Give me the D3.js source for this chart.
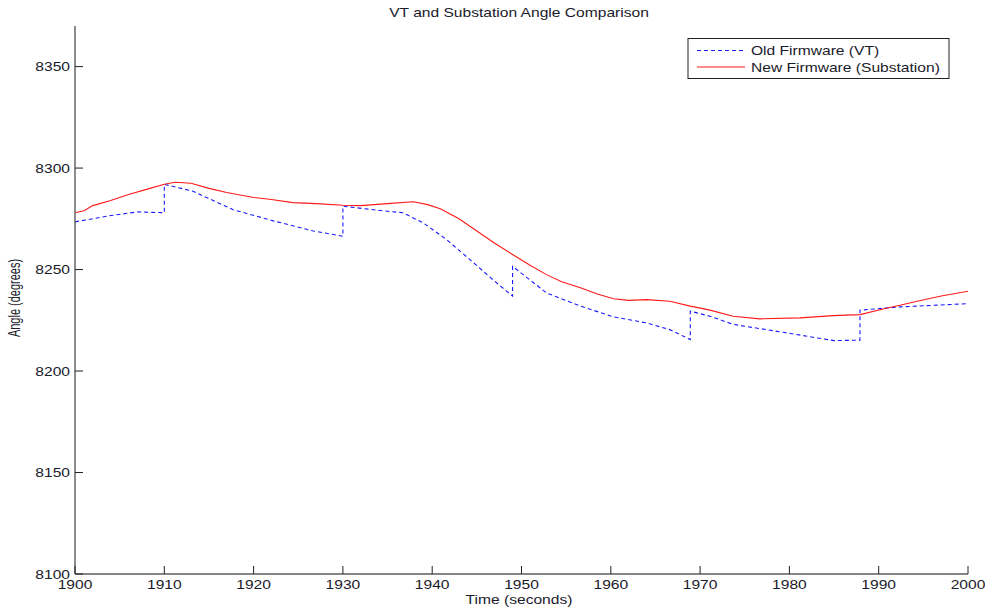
<!DOCTYPE html>
<html>
<head>
<meta charset="utf-8">
<script src="https://cdn.jsdelivr.net/npm/d3@7"></script>
<style>
  body { margin: 0; background: #fff; }
  text { font-family: "Liberation Sans", Arial, sans-serif; fill: #1a1a2a; }
</style>
</head>
<body>
<div id="chart"></div>
<script>
// values
var xTicks = [1900, 1910, 1920, 1930, 1940, 1950, 1960, 1970, 1980, 1990, 2000];
var yTicks = [8100, 8150, 8200, 8250, 8300, 8350];

// New Firmware (Substation)
var newTime = [1900, 1901, 1902, 1904, 1906, 1908, 1910, 1911.2, 1913, 1915, 1917, 1920, 1922, 1924.4, 1927, 1930,
  1932, 1935, 1937.9, 1939.5, 1940.9, 1943, 1945, 1947, 1949, 1951, 1952.8, 1954.5, 1956.6, 1958.5, 1960.3,
  1962, 1964, 1966.6, 1968.9, 1971.1, 1973.7, 1976.7, 1981.2, 1984.9, 1987.9, 1990.5, 1992.5, 1994.3, 1997, 2000];
var newAngle = [8278, 8279, 8281.5, 8284, 8287, 8289.5, 8292, 8293, 8292.5, 8290, 8288, 8285.5, 8284.5, 8283, 8282.5, 8281.7,
  8281.5, 8282.5, 8283.4, 8282, 8280, 8275, 8269, 8263, 8257.4, 8252, 8247.5, 8244, 8241, 8238, 8235.6,
  8234.8, 8235.2, 8234.4, 8232, 8230, 8227, 8225.7, 8226.2, 8227.3, 8227.8, 8230.6, 8232.5, 8234.4, 8237, 8239.3];

// Old Firmware (VT), with the resets
var oldTime = [1900, 1904, 1907, 1910, 1910, 1913.2, 1917.7, 1922.2, 1926.7, 1930, 1930, 1935, 1936.7, 1939, 1941.6,
  1944.2, 1946.8, 1949, 1949, 1952.8, 1956.6, 1960.3, 1964, 1966.6, 1968.9, 1968.9, 1971.1, 1973.7, 1979.3,
  1983.1, 1985, 1987.9, 1987.9, 1992.4, 2000];
var oldAngle = [8273.5, 8276.6, 8278.4, 8278, 8292, 8288.6, 8279.5, 8274, 8269, 8266.4, 8281.2, 8278.7, 8278, 8273, 8264.8,
  8255, 8245, 8236.9, 8251.6, 8238.5, 8232, 8226.7, 8223.7, 8220.4, 8215.5, 8229.5, 8227, 8223, 8219.1,
  8216.3, 8215, 8215.2, 8230, 8231.6, 8233.2];

var width = 985, height = 609;
var plotLeft = 75, plotRight = 968, plotTop = 26, plotBottom = 574;
var sx = 1.3; // the reference text is stretched sideways

var svg = d3.select("#chart").append("svg")
  .attr("width", width)
  .attr("height", height);

var x = d3.scaleLinear().domain([1900, 2000]).range([plotLeft, plotRight]);
var y = d3.scaleLinear().domain([8100, 8370]).range([plotBottom, plotTop]);

function stretched(sel, tx, ty) {
  return sel.attr("transform", "translate(" + tx + "," + ty + ") scale(" + sx + ",1)");
}

// lines
var oldData = oldTime.map(function (t, i) { return [t, oldAngle[i]]; });
var newData = newTime.map(function (t, i) { return [t, newAngle[i]]; });

var line = d3.line()
  .x(function (d) { return x(d[0]); })
  .y(function (d) { return y(d[1]); });

svg.append("path")
  .datum(oldData)
  .attr("fill", "none")
  .attr("stroke", "#1a1aff")
  .attr("stroke-width", 1.1)
  .attr("stroke-dasharray", "4,3")
  .attr("d", line);

svg.append("path")
  .datum(newData)
  .attr("fill", "none")
  .attr("stroke", "#ff1a1a")
  .attr("stroke-width", 1.1)
  .attr("d", line);

// axes
var axisColor = "#5c5c5c";
svg.append("line").attr("x1", plotLeft).attr("x2", plotLeft).attr("y1", plotTop).attr("y2", plotBottom)
  .attr("stroke", axisColor).attr("stroke-width", 1.4);
svg.append("line").attr("x1", plotLeft).attr("x2", plotRight).attr("y1", plotBottom).attr("y2", plotBottom)
  .attr("stroke", axisColor).attr("stroke-width", 1.4);

svg.selectAll(".xtick").data(xTicks).enter().append("line")
  .attr("x1", function (d) { return x(d); }).attr("x2", function (d) { return x(d); })
  .attr("y1", plotBottom).attr("y2", plotBottom - 8)
  .attr("stroke", "#222").attr("stroke-width", 1);

svg.selectAll(".ytick").data(yTicks).enter().append("line")
  .attr("x1", plotLeft).attr("x2", plotLeft + 8)
  .attr("y1", function (d) { return y(d); }).attr("y2", function (d) { return y(d); })
  .attr("stroke", "#222").attr("stroke-width", 1);

svg.selectAll(".xlab").data(xTicks).enter().append("text")
  .attr("text-anchor", "middle")
  .style("font-size", "12px")
  .each(function (d) { stretched(d3.select(this), x(d), 589); })
  .text(function (d) { return d; });

svg.selectAll(".ylab").data(yTicks).enter().append("text")
  .attr("text-anchor", "end")
  .style("font-size", "12px")
  .each(function (d) { stretched(d3.select(this), 70, y(d) + 4.5); })
  .text(function (d) { return d; });

// titles
stretched(svg.append("text"), 519, 17)
  .attr("text-anchor", "middle")
  .style("font-size", "12px")
  .text("VT and Substation Angle Comparison");

stretched(svg.append("text"), 519, 604)
  .attr("text-anchor", "middle")
  .style("font-size", "12px")
  .text("Time (seconds)");

svg.append("text")
  .attr("transform", "translate(20,298) scale(1.5,1) rotate(-90)")
  .attr("text-anchor", "middle")
  .style("font-size", "11px")
  .text("Angle (degrees)");

// legend
var legend = svg.append("g");
legend.append("rect")
  .attr("x", 688).attr("y", 38.5).attr("width", 261).attr("height", 40)
  .attr("fill", "#fff").attr("stroke", "#222").attr("stroke-width", 1);
legend.append("line").attr("x1", 697).attr("x2", 745).attr("y1", 50.5).attr("y2", 50.5)
  .attr("stroke", "#1a1aff").attr("stroke-width", 1.1).attr("stroke-dasharray", "4,3");
legend.append("line").attr("x1", 697).attr("x2", 745).attr("y1", 67).attr("y2", 67)
  .attr("stroke", "#ff1a1a").attr("stroke-width", 1.1);
stretched(legend.append("text"), 751, 55)
  .style("font-size", "12px")
  .text("Old Firmware (VT)");
stretched(legend.append("text"), 751, 72)
  .style("font-size", "12px")
  .text("New Firmware (Substation)");
</script>
</body>
</html>
